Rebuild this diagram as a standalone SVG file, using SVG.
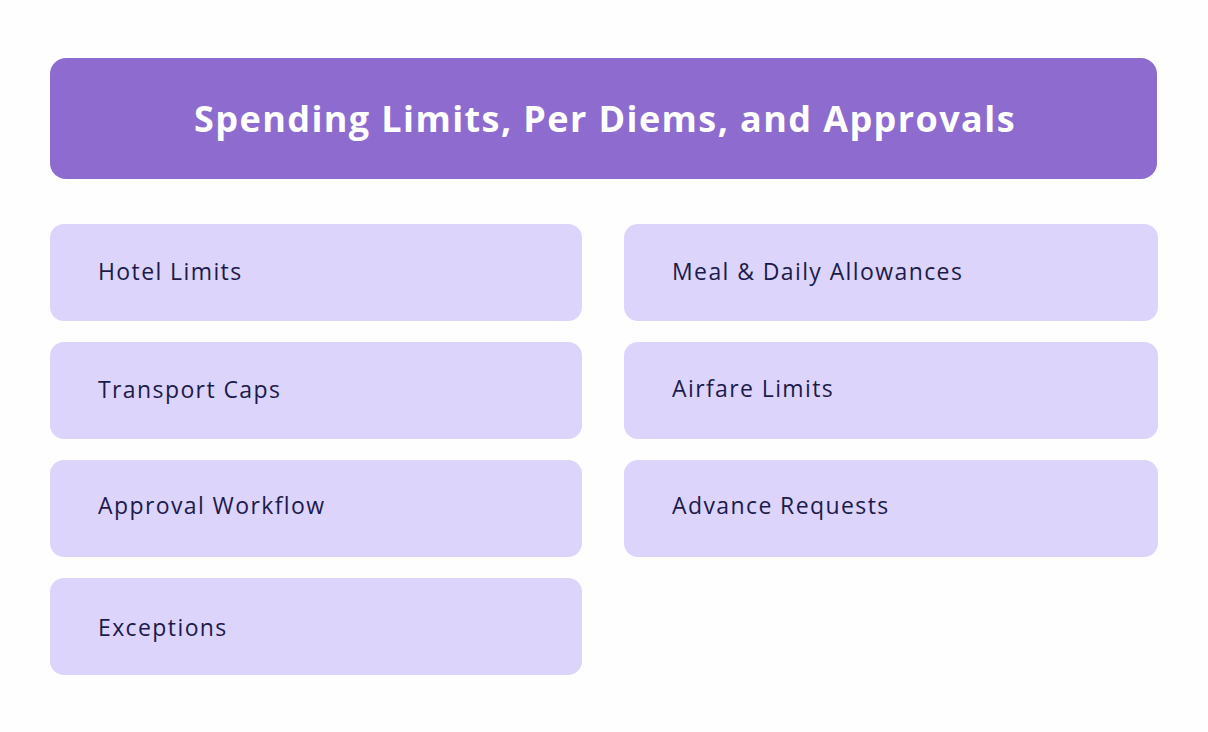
<svg xmlns="http://www.w3.org/2000/svg" width="1208" height="732" viewBox="0 0 1208 732">
<style>
.bg{fill:#FEFEFF}
.hdr{fill:#8E6CCF}
.title{font-family:"Open Sans","Noto Sans",sans-serif;font-weight:700;font-size:36px;letter-spacing:1.4px;fill:#FFFFFF;text-anchor:middle}
.box{fill:#DDD4FB}
.lbl{font-family:"Open Sans","Noto Sans",sans-serif;font-size:23px;letter-spacing:1.4px;fill:#1B1B4B}
</style>
<rect class="bg" x="0" y="0" width="1208" height="732"/>
<g id="header">
<rect class="hdr" x="50" y="58" width="1107" height="121" rx="16"/>
<text class="title" x="605" y="132">Spending Limits, Per Diems, and Approvals</text>
</g>
<g id="hotel-limits"><rect class="box" x="50" y="224" width="532" height="97" rx="14"/><text class="lbl" x="98" y="280">Hotel Limits</text></g>
<g id="meal-daily"><rect class="box" x="624" y="224" width="534" height="97" rx="14"/><text class="lbl" x="672" y="280">Meal &amp; Daily Allowances</text></g>
<g id="transport-caps"><rect class="box" x="50" y="342" width="532" height="97" rx="14"/><text class="lbl" x="98" y="398">Transport Caps</text></g>
<g id="airfare-limits"><rect class="box" x="624" y="342" width="534" height="97" rx="14"/><text class="lbl" x="672" y="397">Airfare Limits</text></g>
<g id="approval-workflow"><rect class="box" x="50" y="460" width="532" height="97" rx="14"/><text class="lbl" x="98" y="514">Approval Workflow</text></g>
<g id="advance-requests"><rect class="box" x="624" y="460" width="534" height="97" rx="14"/><text class="lbl" x="672" y="514">Advance Requests</text></g>
<g id="exceptions"><rect class="box" x="50" y="578" width="532" height="97" rx="14"/><text class="lbl" x="98" y="636">Exceptions</text></g>
<g id="connectors"></g>
</svg>
